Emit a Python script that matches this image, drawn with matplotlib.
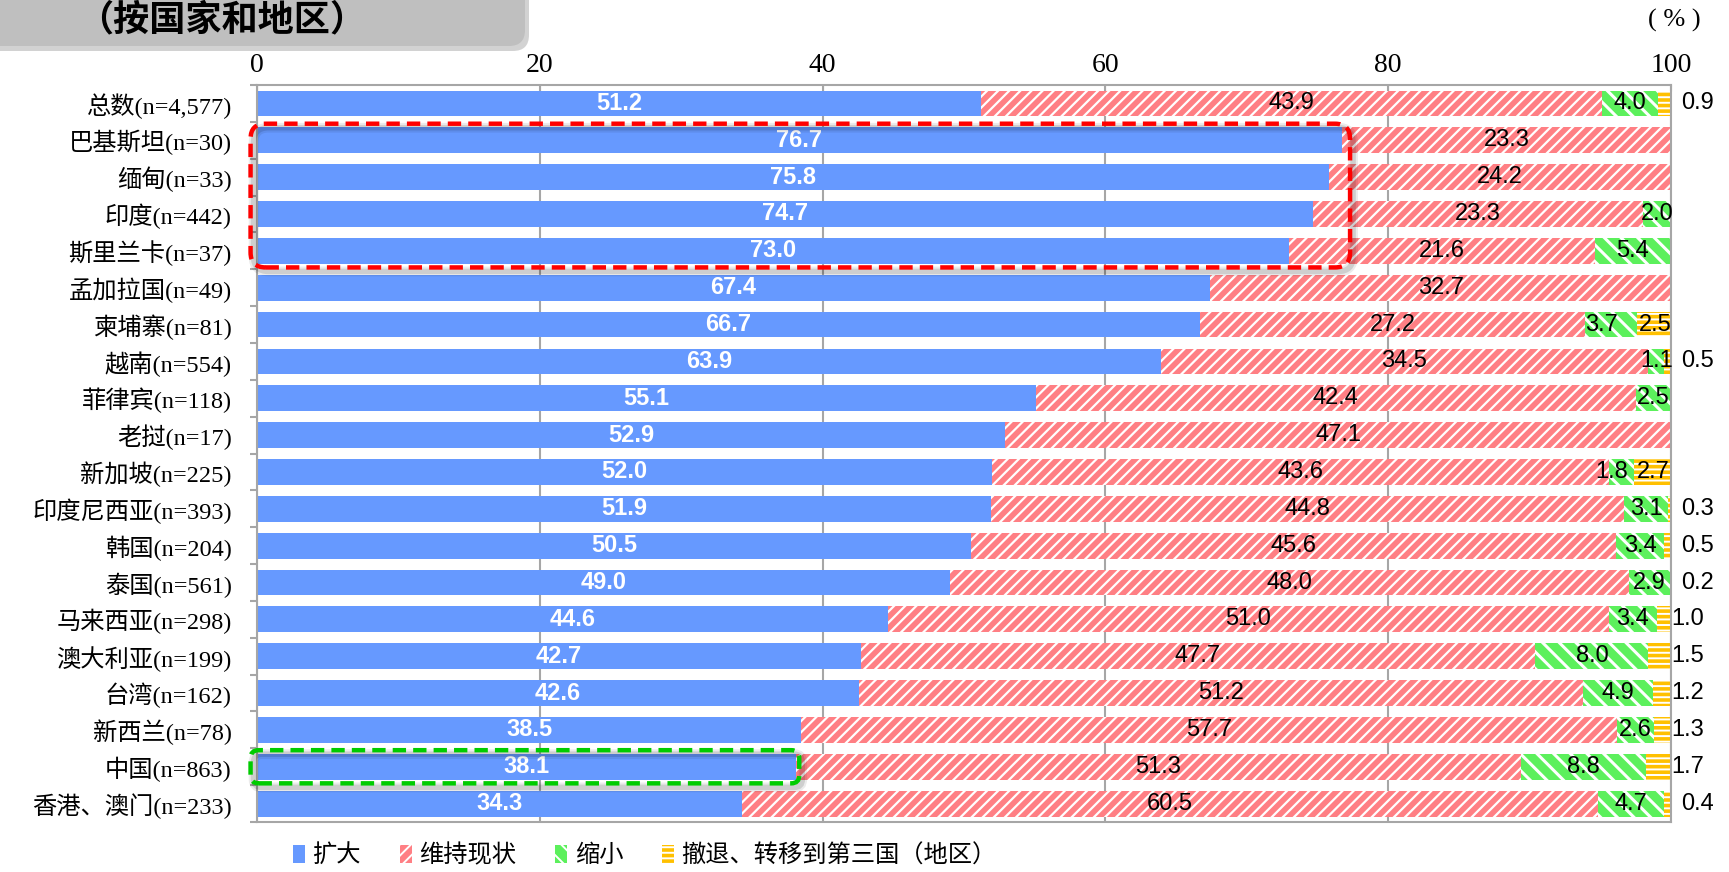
import numpy as np
import matplotlib
matplotlib.use("Agg")
import matplotlib.pyplot as plt
from matplotlib.patches import FancyBboxPatch, Patch
from matplotlib.transforms import IdentityTransform

# data (%)
categories = ["总数(n=4,577)", "巴基斯坦(n=30)", "缅甸(n=33)", "印度(n=442)", "斯里兰卡(n=37)",
              "孟加拉国(n=49)", "柬埔寨(n=81)", "越南(n=554)", "菲律宾(n=118)", "老挝(n=17)",
              "新加坡(n=225)", "印度尼西亚(n=393)", "韩国(n=204)", "泰国(n=561)", "马来西亚(n=298)",
              "澳大利亚(n=199)", "台湾(n=162)", "新西兰(n=78)", "中国(n=863)", "香港、澳门(n=233)"]
expand = [51.2, 76.7, 75.8, 74.7, 73.0, 67.4, 66.7, 63.9, 55.1, 52.9,
          52.0, 51.9, 50.5, 49.0, 44.6, 42.7, 42.6, 38.5, 38.1, 34.3]
maintain = [43.9, 23.3, 24.2, 23.3, 21.6, 32.7, 27.2, 34.5, 42.4, 47.1,
            43.6, 44.8, 45.6, 48.0, 51.0, 47.7, 51.2, 57.7, 51.3, 60.5]
shrink = [4.0, 0, 0, 2.0, 5.4, 0, 3.7, 1.1, 2.5, 0,
          1.8, 3.1, 3.4, 2.9, 3.4, 8.0, 4.9, 2.6, 8.8, 4.7]
withdraw = [0.9, 0, 0, 0, 0, 0, 2.5, 0.5, 0, 0,
            2.7, 0.3, 0.5, 0.2, 1.0, 1.5, 1.2, 1.3, 1.7, 0.4]
series_names = ["扩大", "维持现状", "缩小", "撤退、转移到第三国（地区）"]
xticks = [0, 20, 40, 60, 80, 100]

SERIF = ["Liberation Serif", "Noto Sans CJK SC"]
SANS = ["Liberation Sans", "Noto Sans CJK SC"]
CJK = ["Noto Sans CJK SC", "DejaVu Sans"]

styles = [
    dict(color="#6699FF", hatch=None, hlw=1.0),
    dict(color="#FF7F84", hatch="///", hlw=1.6),
    dict(color="#5CF05C", hatch="\\\\", hlw=2.2),
    dict(color="#FFC000", hatch="---", hlw=1.4),
]

fig = plt.figure(figsize=(17.29, 8.72), dpi=100)
ax = fig.add_axes([0.1486, 0.0573, 0.8179, 0.8452])

y = np.arange(len(categories))
left = np.zeros(len(categories))
data = [expand, maintain, shrink, withdraw]
for k, vals in enumerate(data):
    vals = np.array(vals)
    st = styles[k]
    plt.rcParams["hatch.linewidth"] = st["hlw"]
    if st["hatch"]:
        bars = ax.barh(y, vals, left=left, height=0.7, color=st["color"], edgecolor="white",
                       linewidth=0, hatch=st["hatch"], zorder=2)
        for b in bars:
            if hasattr(b, "set_hatch_linewidth"):
                b.set_hatch_linewidth(st["hlw"])
    else:
        ax.barh(y, vals, left=left, height=0.7, color=st["color"], linewidth=0, zorder=2)
    for i, v in enumerate(vals):
        if v == 0:
            continue
        cx = left[i] + v / 2
        if k == 0:
            ax.text(cx, i, f"{v:.1f}", ha="center", va="center", color="white",
                    fontsize=17, fontweight="bold", family=SANS, zorder=5)
        elif k == 3 and v < 2.5:
            xx = 100.0 if v >= 1 else 100.7
            ax.text(xx, i, f"{v:.1f}", ha="left", va="center", color="black",
                    fontsize=17, family=SANS, zorder=5, clip_on=False)
        else:
            if k == 2 and withdraw[i] >= 2.5:
                cx -= 0.7  # keep clear of the inside label of the last segment
            ax.text(cx, i, f"{v:.1f}", ha="center", va="center", color="black",
                    fontsize=17, family=SANS, zorder=5)
    left += vals

ax.set_xlim(0, 100)
ax.set_ylim(len(categories) - 0.5, -0.5)
ax.xaxis.tick_top()
ax.set_xticks(xticks)
ax.set_xticklabels([str(t) for t in xticks], fontsize=20, family=SERIF)
ax.tick_params(axis="x", direction="in", length=4, color="#A6A6A6", pad=5)
ax.set_yticks(y)
ax.set_yticklabels(categories, fontsize=17.5, family=SERIF)
ax.set_yticks(np.arange(len(categories) + 1) - 0.5, minor=True)
ax.tick_params(axis="y", which="major", length=0, pad=18)
ax.tick_params(axis="y", which="minor", length=5, width=1.5, color="#A6A6A6", direction="out")
ax.grid(axis="x", color="#A6A6A6", lw=1.5)
ax.set_axisbelow(True)
for s in ax.spines.values():
    s.set_color("#A6A6A6")
    s.set_linewidth(1.5)


def dashed_box(x0, x1, r0, r1, color, rad):
    px0, py0 = ax.transData.transform((x0, r1 + 0.45))
    px1, py1 = ax.transData.transform((x1, r0 - 0.45))
    for lw, a in [(7, 0.08), (4, 0.12)]:
        sh = FancyBboxPatch((px0 + 3, py0 - 4), px1 - px0, py1 - py0,
                            boxstyle=f"round,pad=0,rounding_size={rad}",
                            transform=IdentityTransform(), fill=False,
                            ec="black", lw=lw, alpha=a, zorder=6)
        fig.add_artist(sh)
    box = FancyBboxPatch((px0, py0), px1 - px0, py1 - py0,
                         boxstyle=f"round,pad=0,rounding_size={rad}",
                         transform=IdentityTransform(), fill=False, ec=color,
                         lw=3.2, ls=(0, (3, 1.6)), zorder=7)
    fig.add_artist(box)


dashed_box(-0.45, max(expand[1:5]) + 0.6, 1, 4, "#FF0000", 15)
dashed_box(-0.45, expand[18] + 0.25, 18, 18, "#00CC00", 8)

# title box at top-left
fig.add_artist(FancyBboxPatch((-30 + 4, 826 - 5), 555, 80, boxstyle="round,pad=0,rounding_size=16",
                              transform=IdentityTransform(), fc="#808080", ec="none", alpha=0.35))
fig.add_artist(FancyBboxPatch((-30, 826), 555, 80, boxstyle="round,pad=0,rounding_size=16",
                              transform=IdentityTransform(), fc="#BFBFBF", ec="none"))
fig.text(222 / 1729, 1 - 20 / 872, "（按国家和地区）", ha="center", va="center",
         fontsize=26, fontweight="bold", family=CJK)
fig.text(1674 / 1729, 1 - 20 / 872, "( % )", ha="center", va="center", fontsize=19,
         family=SERIF)

handles = []
for k, name in enumerate(series_names):
    st = styles[k]
    if st["hatch"]:
        handles.append(Patch(facecolor=st["color"], edgecolor="white", linewidth=0,
                             hatch=st["hatch"], label=name))
    else:
        handles.append(Patch(facecolor=st["color"], linewidth=0, label=name))
fig.legend(handles=handles, loc="center", bbox_to_anchor=(0.373, 0.019), ncol=4,
           frameon=False, prop={"family": CJK, "size": 17.5}, handlelength=0.5,
           handleheight=0.8, handletextpad=0.3, columnspacing=1.6, borderpad=0)

fig.savefig("out.png", dpi=100)
